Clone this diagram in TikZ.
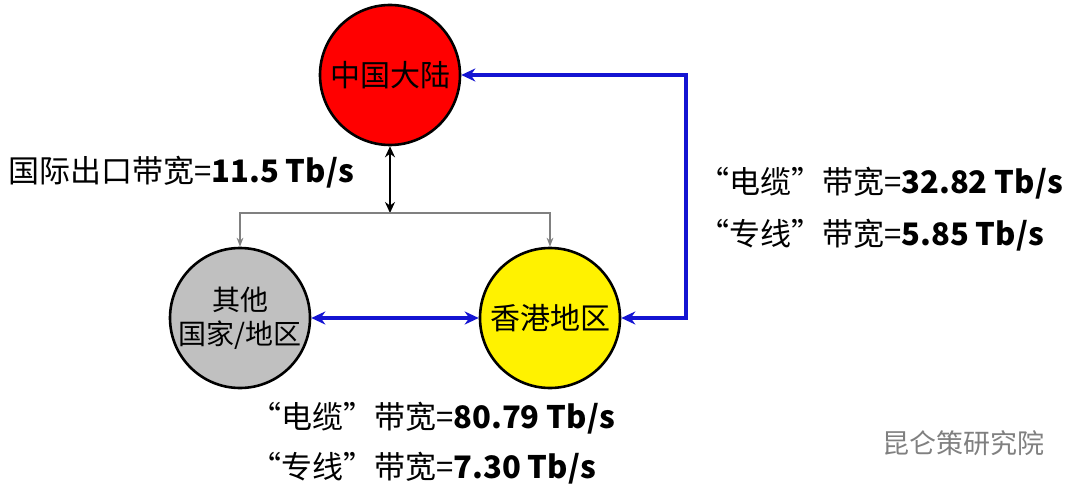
\documentclass[tikz,border=0pt]{standalone}
\usepackage{fontspec}
\setmainfont{Noto Sans CJK SC}
\usetikzlibrary{arrows.meta}
\begin{document}
\begin{tikzpicture}[x=1pt,y=-1pt,
  circ/.style={circle,draw=black,line width=2.6pt,minimum size=140pt,inner sep=0pt,font=\fontsize{30}{34}\selectfont},
  lbl/.style={anchor=west,font=\fontsize{31}{36}\selectfont,inner sep=0pt},
  blu/.style={draw={rgb,255:red,20;green,20;blue,210},line width=3.4pt,{Stealth[length=14pt,width=13pt]}-{Stealth[length=14pt,width=13pt]}},
  thin/.style={draw=gray,line width=1.3pt}]
\useasboundingbox (0,0) rectangle (1080,492);
\node[circ,fill=red] (cn) at (390,75) {中国大陆};
\node[circ,fill={rgb,255:red,192;green,192;blue,192},align=center,font=\fontsize{28}{34}\selectfont] (ot) at (240,318) {其他\\国家/地区};
\node[circ,fill=yellow] (hk) at (550,318) {香港地区};
\coordinate (br) at (390,213);
\draw[line width=2pt,{Stealth[length=11pt,width=10pt]}-{Stealth[length=11pt,width=10pt]}] (cn) -- (br);
\draw[thin,-{Stealth[length=9pt]}] (br) -| (ot);
\draw[thin,-{Stealth[length=9pt]}] (br) -| (hk);
\draw[blu] (ot) -- (hk);
\draw[blu] (hk.east) -- (686,318) -- (686,75) -- (cn.east);
\node[lbl] (t1) at (8,172) {国际出口带宽=\textbf{11.5 Tb/s}};
\node[lbl] (t2) at (698,183) {“电缆”带宽=\textbf{32.82 Tb/s}};
\node[lbl] (t3) at (698,235) {“专线”带宽=\textbf{5.85 Tb/s}};
\node[lbl] (t4) at (250,418) {“电缆”带宽=\textbf{80.79 Tb/s}};
\node[lbl] (t5) at (250,468) {“专线”带宽=\textbf{7.30 Tb/s}};
\node[lbl,text=gray,font=\fontsize{27}{30}\selectfont] (wm) at (882,443) {昆仑策研究院};
\end{tikzpicture}
\end{document}
